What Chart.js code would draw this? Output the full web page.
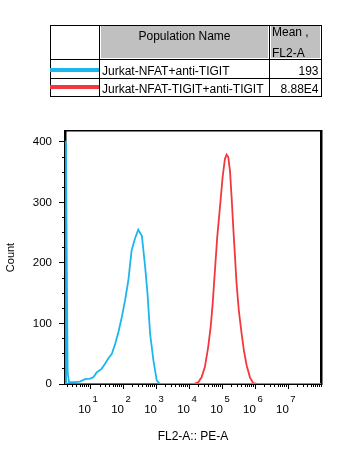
<!DOCTYPE html>
<html><head><meta charset="utf-8">
<script src="https://cdn.jsdelivr.net/npm/chart.js@4/dist/chart.umd.min.js"></script>
<style>
html,body{margin:0;padding:0;background:#fff;}
body{width:354px;height:458px;position:relative;overflow:hidden;font-family:"Liberation Sans",Arial,sans-serif;}
#wrap{position:absolute;left:0;top:0;width:354px;height:458px;}
.ln{position:absolute;background:#000;}
.gray{position:absolute;background:#c0c0c0;}
.sw{position:absolute;}
.t{position:absolute;font-size:12px;line-height:14px;color:#000;white-space:nowrap;}
</style></head><body>
<div id="wrap"><canvas id="c" width="354" height="458"></canvas></div>
<div id="table"></div>
<script>
// ---- data ----
const populations = ["Jurkat-NFAT+anti-TIGIT", "Jurkat-NFAT-TIGIT+anti-TIGIT"];
const meanFL2A = ["193", "8.88E4"];
const seriesColors = ["#1cb6ee", "#f2383c"];
const tableHeaders = ["Population Name", "Mean ,", "FL2-A"];

// FL2-A positions in decades (log10) and counts
const cyanDecades = [0.25,0.27,0.29,0.32,0.36,0.54,0.69,0.85,1.00,1.10,1.20,1.35,1.45,1.55,1.66,1.76,1.86,1.96,2.06,2.16,2.26,2.36,2.46,2.49,2.57,2.67,2.74,2.82,2.92,3.02,3.12,8.0];
const cyanCounts  = [0,402,225,20,3,3,4,8,9,11,19,25,33,42,50,66,86,110,138,171,221,240,255,252,245,193,150,83,39,6,0,0];
const redDecades  = [0.24,4.15,4.28,4.38,4.48,4.58,4.655,4.715,4.785,4.855,4.937,5.018,5.088,5.14,5.188,5.24,5.29,5.34,5.388,5.44,5.51,5.594,5.664,5.745,5.846,5.946,6.07,8.0];
const redCounts   = [0,0,3,11,28,61,94,132,188,243,292,342,372,379,375,353,309,259,215,166,121,83,55,31,11,1.5,0,0];

const decadeExponents = [1,2,3,4,5,6,7];
const yMajorTicks = [0,100,200,300,400];
const yMinorStep = 25;
const xMinDecade = 0.24, xMaxDecade = 8.0;
const yMax = 418;

// ---- table ----
(function(){
  const T = document.getElementById('table');
  function box(cls, l, t, w, h, bg){ const d=document.createElement('div'); d.className=cls; d.style.left=l+'px'; d.style.top=t+'px'; d.style.width=w+'px'; d.style.height=h+'px'; if(bg) d.style.background=bg; T.appendChild(d); return d; }
  function txt(s, l, t, align){ const d=document.createElement('div'); d.className='t'; d.textContent=s; d.style.top=t+'px'; if(align==='right'){ d.style.right=(354-l)+'px'; } else if(align==='center'){ d.style.left=(l-100)+'px'; d.style.width='200px'; d.style.textAlign='center'; } else { d.style.left=l+'px'; } T.appendChild(d); }
  box('gray',101,26,167,32); box('gray',271,26,49,32);
  box('ln',50,25,272,1); box('ln',50,59,272,1); box('ln',50,78,272,1); box('ln',50,96,272,1);
  box('ln',50,25,1,72); box('ln',99,25,1,72); box('ln',269,25,1,72); box('ln',321,25,1,72);
  txt(tableHeaders[0],184.5,28.8,'center');
  txt(tableHeaders[1],272,25.4);
  txt(tableHeaders[2],272,46.4);
  const rowTops=[64.1,82.4], swTops=[67.5,85];
  populations.forEach((p,i)=>{
    box('sw',50,swTops[i],49,4,seriesColors[i]);
    txt(p,102,rowTops[i]);
    txt(meanFL2A[i],318.5,rowTops[i],'right');
  });
})();

// ---- chart ----
const FONT = '"Liberation Sans", Arial, sans-serif';
const xMin = Math.pow(10,xMinDecade), xMax = Math.pow(10,xMaxDecade);
const majorTicks = () => decadeExponents.map(e=>({value:Math.pow(10,e)}));
const minorTicks = () => { const o=[]; for(let e=0;e<=8;e++) for(let k=1;k<=9;k++){ const v=k*Math.pow(10,e); if(v>=xMin && v<=xMax*1.0001) o.push({value:v}); } return o; };
const toPts = (xs, ys) => xs.map((d,i)=>({x:Math.pow(10,d), y:ys[i]}));

new Chart(document.getElementById('c'), {
  type:'line',
  data:{ datasets:[
    { label:populations[0], data:toPts(cyanDecades,cyanCounts), borderColor:seriesColors[0], borderWidth:1.8, pointRadius:0, tension:0, fill:false },
    { label:populations[1], data:toPts(redDecades,redCounts), borderColor:seriesColors[1], borderWidth:1.8, pointRadius:0, tension:0, fill:false }
  ]},
  options:{
    responsive:false, animation:false, devicePixelRatio:1,
    layout:{ padding:{ top:131, right:33, left:0, bottom:0 } },
    plugins:{ legend:{display:false}, tooltip:{enabled:false} },
    scales:{
      xMinor:{ type:'logarithmic', position:'bottom', weight:0, min:xMin, max:xMax,
        afterBuildTicks:s=>{ s.ticks=minorTicks(); },
        ticks:{ display:false, autoSkip:false },
        grid:{ display:true, drawOnChartArea:false, drawTicks:true, tickLength:3, tickColor:'#000', tickWidth:1 },
        border:{ display:false }, afterFit:s=>{ s.height=0; } },
      x:{ type:'logarithmic', position:'bottom', weight:1, min:xMin, max:xMax,
        afterBuildTicks:s=>{ s.ticks=majorTicks(); },
        ticks:{ autoSkip:false, maxRotation:0, padding:5, labelOffset:5, color:'#000', font:{family:FONT,size:9.5},
          callback:v=>String(Math.round(Math.log10(v))) },
        grid:{ display:true, drawOnChartArea:false, drawTicks:true, tickLength:5, tickColor:'#000', tickWidth:1 },
        border:{ display:true, color:'#000', width:2 },
        afterFit:s=>{ s.height=19; } },
      xTen:{ type:'logarithmic', position:'bottom', weight:2, min:xMin, max:xMax,
        afterBuildTicks:s=>{ s.ticks=majorTicks(); },
        ticks:{ autoSkip:false, maxRotation:0, padding:0, labelOffset:-5.5, color:'#000', font:{family:FONT,size:11.5}, callback:()=> '10' },
        grid:{ display:false, drawTicks:false }, border:{ display:false },
        title:{ display:true, text:'FL2-A:: PE-A', color:'#000', font:{family:FONT,size:12}, padding:{top:0,bottom:13.8} },
        afterFit:s=>{ s.height=55; } },
      xTop:{ type:'linear', position:'top', min:0, max:1, ticks:{display:false}, grid:{display:false, drawTicks:false},
        border:{ display:true, color:'#000', width:1.5 }, afterFit:s=>{ s.height=0; } },
      yMinor:{ type:'linear', position:'left', weight:0, min:0, max:yMax,
        afterBuildTicks:s=>{ const o=[]; for(let v=0; v<=yMax; v+=yMinorStep) o.push({value:v}); s.ticks=o; },
        ticks:{ display:false },
        grid:{ display:true, drawOnChartArea:false, drawTicks:true, tickLength:3, tickColor:'#000', tickWidth:1 },
        border:{ display:false }, afterFit:s=>{ s.width=0; } },
      y:{ type:'linear', position:'left', weight:1, min:0, max:yMax,
        afterBuildTicks:s=>{ s.ticks=yMajorTicks.map(v=>({value:v})); },
        ticks:{ padding:7, color:'#000', font:{family:FONT,size:11.5}, callback:v=>String(v) },
        grid:{ display:true, drawOnChartArea:false, drawTicks:true, tickLength:6, tickColor:'#000', tickWidth:1 },
        border:{ display:true, color:'#000', width:2.5 },
        title:{ display:true, text:'Count', color:'#000', font:{family:FONT,size:11}, padding:{top:4.4,bottom:0} },
        afterFit:s=>{ s.width=65; } },
      yRight:{ type:'linear', position:'right', min:0, max:1, ticks:{display:false}, grid:{display:false, drawTicks:false},
        border:{ display:true, color:'#000', width:2.5 }, afterFit:s=>{ s.width=0; } }
    }
  }
});
</script>
</body></html>
